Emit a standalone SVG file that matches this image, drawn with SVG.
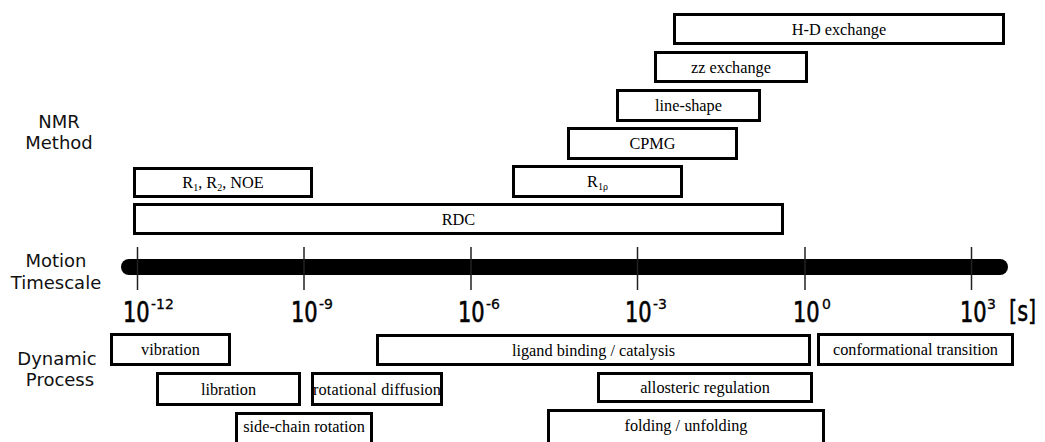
<svg xmlns="http://www.w3.org/2000/svg" width="1045" height="442" viewBox="0 0 1045 442">
<style>
.box{fill:#fff;stroke:#000;stroke-width:3}
.t{font-family:"Liberation Serif","Times New Roman",serif;font-size:16.3px;fill:#000;text-anchor:middle}
.sub{font-size:10px}
.lab{font-family:"DejaVu Sans",Verdana,sans-serif;font-size:18px;fill:#111;text-anchor:middle}
.tk{font-family:"DejaVu Sans",Verdana,sans-serif;font-size:21px;fill:#000;stroke:#000;stroke-width:0.5}
.sup{font-family:"DejaVu Sans",Verdana,sans-serif;font-size:14px;fill:#000;stroke:#000;stroke-width:0.3}
.tick{stroke:#222;stroke-width:1.5}
</style>
<rect width="1045" height="442" fill="#fff"/>
<g id="labels">
<text class="lab" x="59" y="128">NMR</text>
<text class="lab" x="59" y="149">Method</text>
<text class="lab" x="56" y="267">Motion</text>
<text class="lab" x="56" y="289">Timescale</text>
<text class="lab" x="57" y="365">Dynamic</text>
<text class="lab" x="60" y="386">Process</text>
</g>
<g id="axis">
<line x1="129" y1="267" x2="1000" y2="267" stroke="#000" stroke-width="16" stroke-linecap="round"/>
<line class="tick" x1="137.5" y1="247" x2="137.5" y2="290"/>
<line class="tick" x1="304" y1="247" x2="304" y2="290"/>
<line class="tick" x1="471" y1="247" x2="471" y2="290"/>
<line class="tick" x1="637.5" y1="247" x2="637.5" y2="290"/>
<line class="tick" x1="805" y1="247" x2="805" y2="290"/>
<line class="tick" x1="971.5" y1="247" x2="971.5" y2="290"/>
<text class="tk" transform="translate(123,321.5) scale(1,1.33)">10</text>
<text class="sup" x="151" y="309">-12</text>
<text class="tk" transform="translate(291,321.5) scale(1,1.33)">10</text>
<text class="sup" x="319" y="309">-9</text>
<text class="tk" transform="translate(458,321.5) scale(1,1.33)">10</text>
<text class="sup" x="486" y="309">-6</text>
<text class="tk" transform="translate(625,321.5) scale(1,1.33)">10</text>
<text class="sup" x="653" y="309">-3</text>
<text class="tk" transform="translate(793,321.5) scale(1,1.33)">10</text>
<text class="sup" x="822" y="309">0</text>
<text class="tk" transform="translate(960,321.5) scale(1,1.33)">10</text>
<text class="sup" x="987" y="309">3</text>
<text class="tk" style="stroke-width:0.3" transform="translate(1009,320.5) scale(1,1.33)">[s]</text>
</g>
<g id="hd-exchange"><rect class="box" x="674.5" y="14.5" width="329" height="29"/><text class="t" x="839" y="34.5">H-D exchange</text></g>
<g id="zz-exchange"><rect class="box" x="655.5" y="52.5" width="151" height="29"/><text class="t" x="731" y="72.5">zz exchange</text></g>
<g id="line-shape"><rect class="box" x="617.5" y="90.5" width="142" height="30"/><text class="t" x="688.5" y="111">line-shape</text></g>
<g id="cpmg"><rect class="box" x="568.5" y="128.5" width="168" height="30"/><text class="t" x="652.5" y="149">CPMG</text></g>
<g id="r1rho"><rect class="box" x="513.5" y="166.5" width="168" height="30"/><text class="t" x="597.5" y="187">R<tspan class="sub" dy="3">1ρ</tspan></text></g>
<g id="r1r2noe"><rect class="box" x="134.5" y="168.5" width="177" height="28"/><text class="t" x="223" y="188">R<tspan class="sub" dy="3">1</tspan><tspan dy="-3">, R</tspan><tspan class="sub" dy="3">2</tspan><tspan dy="-3">, NOE</tspan></text></g>
<g id="rdc"><rect class="box" x="134.5" y="204.5" width="648" height="29"/><text class="t" x="458.5" y="224.5">RDC</text></g>
<g id="vibration"><rect class="box" x="111.5" y="334.5" width="118" height="30"/><text class="t" x="170.5" y="355">vibration</text></g>
<g id="libration"><rect class="box" x="157.5" y="373.5" width="142" height="31"/><text class="t" x="228.5" y="394.5">libration</text></g>
<g id="rotational-diffusion"><rect class="box" x="312.5" y="373.5" width="129" height="31"/><text class="t" x="377" y="394.5" textLength="128" lengthAdjust="spacing">rotational diffusion</text></g>
<g id="side-chain-rotation"><rect class="box" x="236.5" y="413.5" width="135" height="34"/><text class="t" x="304" y="432">side-chain rotation</text></g>
<g id="ligand-binding"><rect class="box" x="377.5" y="335.5" width="432" height="29"/><text class="t" x="593.5" y="355.5">ligand binding / catalysis</text></g>
<g id="conformational-transition"><rect class="box" x="818.5" y="334.5" width="194" height="30"/><text class="t" x="915.5" y="355">conformational transition</text></g>
<g id="allosteric-regulation"><rect class="box" x="598.5" y="373.5" width="213" height="28"/><text class="t" x="705" y="393">allosteric regulation</text></g>
<g id="folding-unfolding"><rect class="box" x="548.5" y="410.5" width="275" height="36"/><text class="t" x="686" y="431">folding / unfolding</text></g>
<g id="connectors"></g>
</svg>
